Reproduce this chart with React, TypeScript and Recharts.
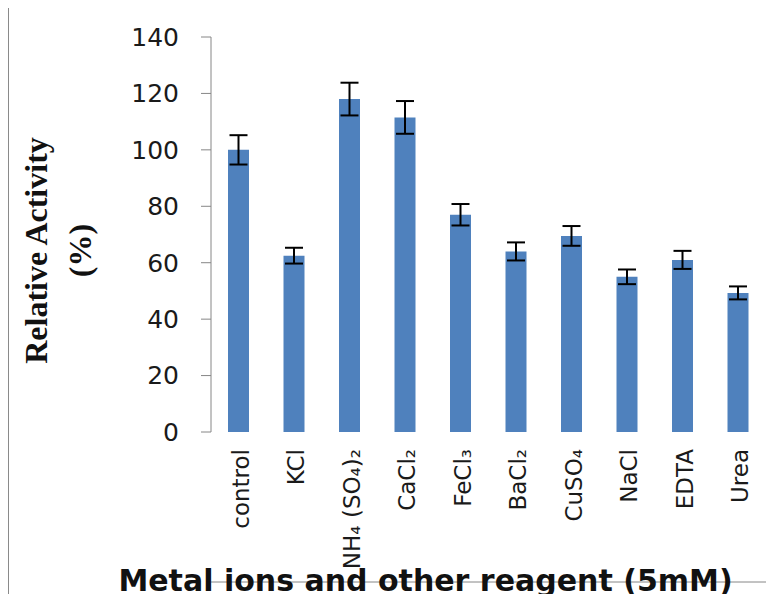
import React from 'react';
import { BarChart, Bar, XAxis, YAxis, ErrorBar, Label } from 'recharts';

// Relative enzyme activity (%) in the presence of metal ions and other reagents (5 mM)
const categories = ['control', 'KCl', 'NH₄ (SO₄)₂', 'CaCl₂', 'FeCl₃', 'BaCl₂', 'CuSO₄', 'NaCl', 'EDTA', 'Urea'];
const activity = [100, 62.5, 118, 111.5, 77, 64, 69.5, 55, 61, 49.3];
const activityError = [5.2, 2.8, 5.8, 5.8, 3.8, 3.2, 3.5, 2.6, 3.2, 2.3];
const yTicks = [0, 20, 40, 60, 80, 100, 120, 140];
const xTitle = 'Metal ions and other reagent (5mM)';
const yTitleLines = ['Relative Activity', '(%)'];

const data = categories.map((name, i) => ({ name, activity: activity[i], err: activityError[i] }));
// Tick marks sit on the category boundaries (0..n on a numeric axis spanning the categories)
const boundaryTicks = categories.map((_, i) => i).concat(categories.length);

const AXIS_COLOR = '#868686';
const BAR_COLOR = '#4F81BD';
const TEXT_COLOR = '#1a1a1a';

function CategoryTick(props: any) {
  const { x, y, payload } = props;
  return (
    <text
      x={x}
      y={y}
      dy={10}
      transform={`rotate(-90, ${x}, ${y})`}
      textAnchor="end"
      fontFamily="DejaVu Sans"
      fontSize={23}
      fill={TEXT_COLOR}
    >
      {payload.value}
    </text>
  );
}

function YTitle(props: any) {
  const { x, y, height } = props.viewBox;
  const cy = y + height / 2 + 16;
  const x1 = x + 27;
  const x2 = x + 71;
  const common = {
    textAnchor: 'middle' as const,
    dominantBaseline: 'central' as const,
    fontFamily: 'Liberation Serif',
    fontWeight: 'bold' as const,
    fontSize: 32,
    fill: '#111',
  };
  return (
    <g>
      <text x={x1} y={cy} transform={`rotate(-90, ${x1}, ${cy})`} {...common}>
        {yTitleLines[0]}
      </text>
      <text x={x2} y={cy} transform={`rotate(-90, ${x2}, ${cy})`} {...common}>
        {yTitleLines[1]}
      </text>
    </g>
  );
}

function XTitle(props: any) {
  const { x, y, width, height } = props.viewBox;
  return (
    <text
      x={x + width / 2 - 63}
      y={y + height + 9}
      textAnchor="middle"
      fontFamily="DejaVu Sans"
      fontWeight="bold"
      fontSize={30}
      fill="#111"
    >
      {xTitle}
    </text>
  );
}

export default function App() {
  return (
    <div
      style={{
        width: 766,
        height: 598,
        marginLeft: -1,
        marginTop: -2,
        marginBottom: -10,
        borderTop: '2px solid #8a8a8a',
        borderLeft: '2px solid #8a8a8a',
        boxSizing: 'border-box',
        overflow: 'hidden',
        background: '#fff',
      }}
    >
      <BarChart
        width={764}
        height={596}
        data={data}
        margin={{ top: 29, right: 7, left: 0, bottom: 10 }}
      >
        <XAxis
          xAxisId="edges"
          type="number"
          domain={[0, categories.length]}
          ticks={boundaryTicks}
          allowDataOverflow
          tick={false}
          tickSize={10}
          tickLine={{ stroke: AXIS_COLOR }}
          axisLine={{ stroke: AXIS_COLOR }}
          height={12}
        />
        <XAxis
          dataKey="name"
          interval={0}
          axisLine={false}
          tickLine={false}
          tickSize={0}
          tickMargin={17}
          height={150}
          tick={<CategoryTick />}
        >
          <Label content={<XTitle />} />
        </XAxis>
        <YAxis
          domain={[0, 140]}
          ticks={yTicks}
          width={202}
          tickSize={10}
          tickMargin={22}
          tickLine={{ stroke: AXIS_COLOR }}
          axisLine={{ stroke: AXIS_COLOR }}
          tick={{ fontFamily: 'DejaVu Sans', fontSize: 25, fill: TEXT_COLOR }}
        >
          <Label content={<YTitle />} />
        </YAxis>
        <Bar dataKey="activity" fill={BAR_COLOR} barSize={21} isAnimationActive={false}>
          <ErrorBar
            dataKey="err"
            direction="y"
            width={9}
            stroke="#000"
            strokeWidth={2}
            isAnimationActive={false}
          />
        </Bar>
      </BarChart>
    </div>
  );
}
